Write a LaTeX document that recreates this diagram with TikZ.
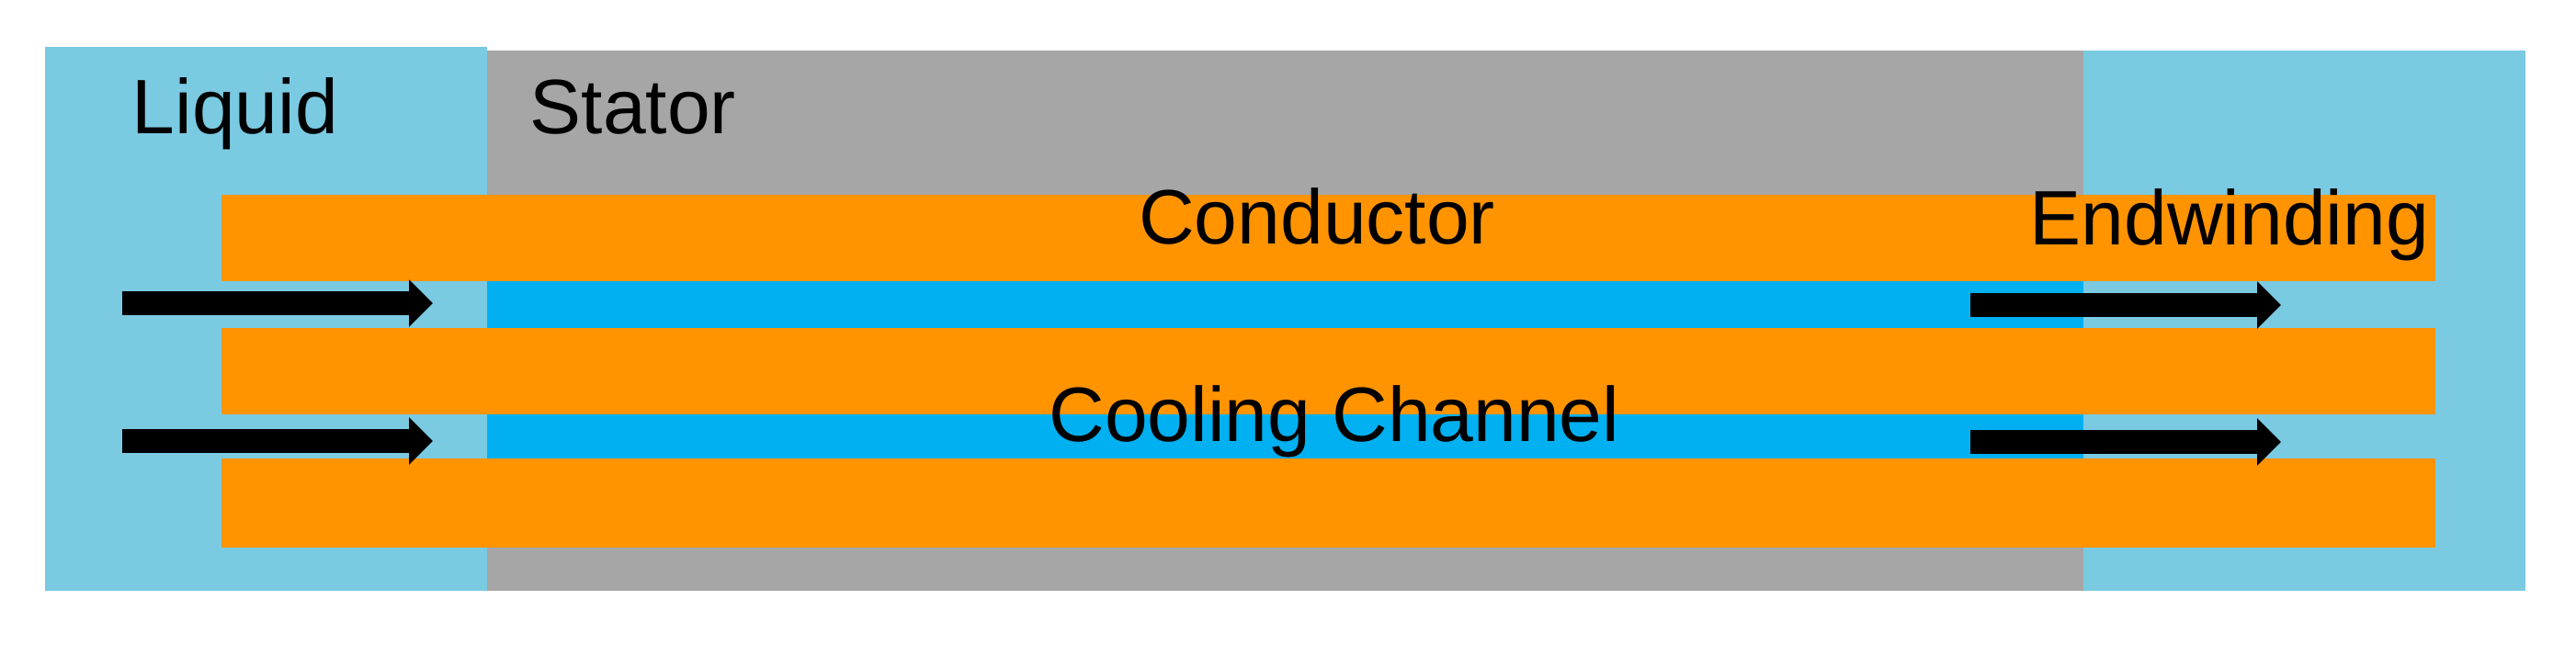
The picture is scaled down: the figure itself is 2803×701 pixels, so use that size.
\documentclass[tikz,border=0pt]{standalone}
\usepackage{fontspec}
\setmainfont{Liberation Sans}
\usetikzlibrary{arrows.meta}
\definecolor{liq}{HTML}{7ACAE2}
\definecolor{stat}{HTML}{A6A6A6}
\definecolor{cond}{HTML}{FF9400}
\definecolor{chan}{HTML}{00B0F0}
\begin{document}
\begin{tikzpicture}[x=0.25pt,y=-0.25pt,
  lbl/.style={font=\fontsize{21pt}{24pt}\selectfont,inner sep=0pt,text=black},
  flow/.style={line width=6.5pt,-{Triangle[length=6.5pt,width=12.5pt]},black}]
\useasboundingbox (0,0) rectangle (2803,701);
\fill[white] (0,0) rectangle (2803,701);
\fill[liq] (49,51) rectangle (530,643);
\fill[liq] (2267,55) rectangle (2748,643);
\fill[stat] (530,55) rectangle (2267,643);
\fill[chan] (530,306) rectangle (2267,357);
\fill[chan] (530,451) rectangle (2267,499);
\fill[cond] (241,212) rectangle (2650,306);
\fill[cond] (241,357) rectangle (2650,451);
\fill[cond] (241,499) rectangle (2650,596);
\node[lbl,anchor=base west] (liquid) at (143,145) {Liquid};
\node[lbl,anchor=base west] (stator) at (576,145) {Stator};
\node[lbl,anchor=base] (conductor) at (1433,265) {Conductor};
\node[lbl,anchor=base west] (endw) at (2208,266) {Endwinding};
\node[lbl,anchor=base] (cool) at (1452,480) {Cooling Channel};
\coordinate (a1) at (133,330); \coordinate (b1) at (471,330);
\coordinate (a2) at (133,480); \coordinate (b2) at (471,480);
\coordinate (c1) at (2144,332); \coordinate (d1) at (2482,332);
\coordinate (c2) at (2144,481); \coordinate (d2) at (2482,481);
\draw[flow] (a1) -- (b1);
\draw[flow] (a2) -- (b2);
\draw[flow] (c1) -- (d1);
\draw[flow] (c2) -- (d2);
\end{tikzpicture}
\end{document}
